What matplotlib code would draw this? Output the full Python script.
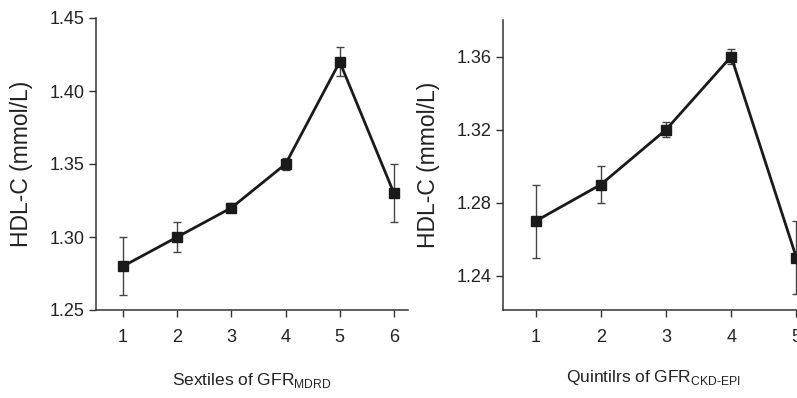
import numpy as np
import matplotlib
matplotlib.use('Agg')
import matplotlib.pyplot as plt

plt.rcParams['font.family'] = ['Liberation Sans', 'DejaVu Sans']
plt.rcParams['mathtext.fontset'] = 'custom'
plt.rcParams['mathtext.rm'] = 'Liberation Sans'

# Left panel: sextiles of GFR (MDRD)
sextiles = [1, 2, 3, 4, 5, 6]
hdl_mdrd = [1.28, 1.30, 1.32, 1.35, 1.42, 1.33]
err_mdrd = [0.02, 0.01, 0.003, 0.004, 0.01, 0.02]

# Right panel: quintiles of GFR (CKD-EPI)
quintiles = [1, 2, 3, 4, 5]
hdl_ckd = [1.27, 1.29, 1.32, 1.36, 1.25]
err_ckd = [0.02, 0.01, 0.004, 0.004, 0.02]

W, H = 797, 398
fig = plt.figure(figsize=(W / 100, H / 100), dpi=100)

ax1 = fig.add_axes([96 / W, (H - 310) / H, (408 - 96) / W, 292 / H])
ax2 = fig.add_axes([503 / W, (H - 310) / H, 326 / W, 290 / H])

spine_col = '#333333'
text_col = '#222222'


def style(ax):
    ax.spines['top'].set_visible(False)
    ax.spines['right'].set_visible(False)
    for s in ['left', 'bottom']:
        ax.spines[s].set_color(spine_col)
        ax.spines[s].set_linewidth(1.1)
    ax.tick_params(direction='out', length=5, width=1.0, color=spine_col,
                   labelsize=13, labelcolor=text_col)
    ax.tick_params(axis='x', pad=9)
    ax.tick_params(axis='y', pad=3)


ax1.errorbar(sextiles, hdl_mdrd, yerr=err_mdrd, color='#1a1a1a', lw=2,
             marker='s', ms=7, ecolor='#444444', elinewidth=1, capsize=3,
             capthick=1)
ax1.set_xlim(0.5, 6.26)
ax1.set_ylim(1.25, 1.45)
ax1.set_xticks(sextiles)
ax1.set_yticks([1.25, 1.30, 1.35, 1.40, 1.45])
ax1.set_yticklabels(['1.25', '1.30', '1.35', '1.40', '1.45'])
style(ax1)
ax1.set_ylabel('HDL-C (mmol/L)', fontsize=16.5, color=text_col, labelpad=12)
ax1.set_xlabel(r'Sextiles of GFR$_\mathregular{MDRD}$', fontsize=12.5,
               color=text_col, labelpad=18)

ax2.errorbar(quintiles, hdl_ckd, yerr=err_ckd, color='#1a1a1a', lw=2,
             marker='s', ms=7, ecolor='#444444', elinewidth=1, capsize=3,
             capthick=1, clip_on=False)
ax2.set_xlim(0.5, 5.5)
ax2.set_ylim(1.2214, 1.38)
ax2.set_xticks(quintiles)
ax2.set_yticks([1.24, 1.28, 1.32, 1.36])
ax2.set_yticklabels(['1.24', '1.28', '1.32', '1.36'])
style(ax2)
ax2.set_ylabel('HDL-C (mmol/L)', fontsize=16.5, color=text_col, labelpad=12)
ax2.set_xlabel(r'Quintilrs of GFR$_\mathregular{CKD\text{-}EPI}$', fontsize=12.5,
               color=text_col, labelpad=24)
ax2.xaxis.set_label_coords(150 / 326, -0.2)

fig.savefig('out.png', dpi=100)
